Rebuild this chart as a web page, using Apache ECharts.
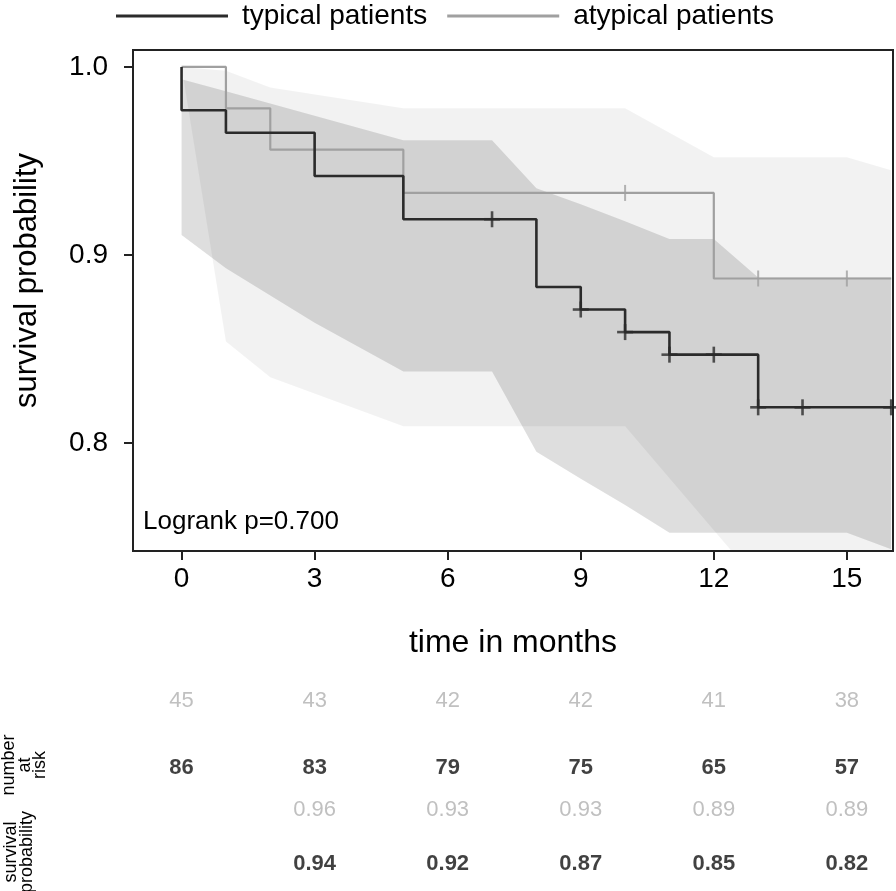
<!DOCTYPE html>
<html><head><meta charset="utf-8">
<script src="https://cdn.jsdelivr.net/npm/echarts@6/dist/echarts.min.js"></script>
<style>html,body{margin:0;padding:0;background:#fff}#c{width:896px;height:891px}</style>
</head><body><div id="c"></div>
<script>
// ---- data ----
const xTicks = [0, 3, 6, 9, 12, 15];
const yTicks = [0.8, 0.9, 1.0];

const typStepTime = [0, 0, 1, 3, 5, 8, 9, 10, 11, 13, 16];
const typStepSurv = [1.0, 0.977, 0.965, 0.942, 0.919, 0.883, 0.871, 0.859, 0.847, 0.819, 0.819];
const atyStepTime = [0, 1, 2, 5, 12, 16];
const atyStepSurv = [1.0, 0.978, 0.956, 0.933, 0.8875, 0.8875];

const typCensorTime = [7, 9, 10, 11, 12, 13, 14, 16];
const typCensorSurv = [0.919, 0.871, 0.859, 0.847, 0.847, 0.819, 0.819, 0.819];
const atyCensorTime = [10, 13, 15];
const atyCensorSurv = [0.933, 0.8875, 0.8875];

const typCiTime  = [0, 1, 3, 5, 7, 8, 9, 10, 11, 12, 13, 14, 15, 16];
const typCiUpper = [0.9934, 0.987, 0.974, 0.961, 0.961, 0.9355, 0.927, 0.918, 0.9085, 0.9085, 0.888, 0.888, 0.888, 0.888];
const typCiLower = [0.9106, 0.893, 0.864, 0.838, 0.838, 0.7954, 0.781, 0.767, 0.7523, 0.7523, 0.7523, 0.7523, 0.7523, 0.7435];

const atyCiTime  = [0, 1, 2, 5, 10, 12, 13, 15, 16];
const atyCiUpper = [1.0, 0.998, 0.989, 0.978, 0.978, 0.952, 0.952, 0.952, 0.945];
const atyCiLower = [1.0, 0.854, 0.835, 0.809, 0.809, 0.7537, 0.726, 0.726, 0.72];

const riskTimes = [0, 3, 6, 9, 12, 15];
const atyRisk = [45, 43, 42, 42, 41, 38];
const typRisk = [86, 83, 79, 75, 65, 57];
const survTimes = [3, 6, 9, 12, 15];
const atySurvTable = ['0.96', '0.93', '0.93', '0.89', '0.89'];
const typSurvTable = ['0.94', '0.92', '0.87', '0.85', '0.82'];

// ---- chart ----
const FONT = '"Liberation Sans", Arial, sans-serif';
const TYP_COLOR = '#2b2b2b';
const ATY_COLOR = '#a0a0a0';
const X_MIN = -1.095, X_MAX = 16.04;

function pairs(xs, ys) { return xs.map((x, i) => [x, ys[i]]); }

const chart = echarts.init(document.getElementById('c'), null, {renderer: 'canvas'});

const hiddenX = (gi) => ({type: 'value', gridIndex: gi, min: X_MIN, max: X_MAX, show: false});
const tableY = (gi) => ({type: 'category', gridIndex: gi, data: ['aty', 'typ'], inverse: true, show: false});

function tableSeries(gi, times, vals, isTyp) {
  return {
    type: 'scatter', xAxisIndex: gi, yAxisIndex: gi,
    data: times.map((t, i) => [t, isTyp ? 'typ' : 'aty', String(vals[i])]),
    symbol: 'circle', symbolSize: 1, itemStyle: {color: 'transparent'}, silent: true,
    label: {show: true, position: 'inside', formatter: p => p.data[2],
            fontFamily: FONT, fontSize: 22, fontWeight: isTyp ? 'bold' : 'normal',
            color: isTyp ? '#111' : '#b0b0b0'}
  };
}

function bandSeries(times, lower, upper, fill) {
  return {
    type: 'custom', silent: true, z: 1,
    data: times.map((t, i) => [t, lower[i], upper[i]]),
    encode: {x: 0, y: [1, 2]},
    renderItem: function (params, api) {
      if (params.dataIndex !== 0) return null;
      const pts = [];
      for (let i = 0; i < times.length; i++) pts.push(api.coord([times[i], upper[i]]));
      for (let i = times.length - 1; i >= 0; i--) pts.push(api.coord([times[i], lower[i]]));
      const cs = params.coordSys;
      return {
        type: 'polygon', shape: {points: pts}, style: {fill: fill, stroke: null},
        clipPath: {type: 'rect', shape: {x: cs.x, y: cs.y, width: cs.width, height: cs.height}}
      };
    }
  };
}

const option = {
  animation: false,
  backgroundColor: '#fff',
  textStyle: {fontFamily: FONT},
  legend: {
    data: ['typical patients', 'atypical patients'],
    left: 111, top: -3, icon: 'rect', itemWidth: 112, itemHeight: 3, itemGap: 20,
    textStyle: {fontFamily: FONT, fontSize: 28, color: '#000', padding: [0, 0, 0, 9]}
  },
  grid: [
    {left: 133, right: 3, top: 50, bottom: 340, show: true, borderColor: '#222', borderWidth: 2, z: 10},
    {left: 133, right: 3, top: 667.5, height: 134},
    {left: 133, right: 3, top: 783, height: 116}
  ],
  xAxis: [
    {type: 'value', gridIndex: 0, min: X_MIN, max: X_MAX,
     axisLine: {show: true, onZero: false, lineStyle: {color: '#222', width: 2}},
     axisTick: {show: true, customValues: xTicks, length: 9, lineStyle: {color: '#222', width: 2}},
     axisLabel: {customValues: xTicks, fontSize: 28, color: '#000', margin: 14, fontFamily: FONT},
     splitLine: {show: false},
     name: 'time in months', nameLocation: 'middle', nameGap: 76,
     nameTextStyle: {fontSize: 32, color: '#000', fontFamily: FONT}},
    hiddenX(1), hiddenX(2)
  ],
  yAxis: [
    {type: 'value', gridIndex: 0, min: 0.7426, max: 1.009,
     axisLine: {show: true, onZero: false, lineStyle: {color: '#222', width: 2}},
     axisTick: {show: true, customValues: yTicks, length: 9, lineStyle: {color: '#222', width: 2}},
     axisLabel: {customValues: yTicks, fontSize: 28, color: '#000', margin: 25, fontFamily: FONT,
                 formatter: v => Number(v).toFixed(1)},
     splitLine: {show: false},
     name: 'survival probability', nameLocation: 'middle', nameGap: 90,
     nameTextStyle: {fontSize: 31, color: '#000', fontFamily: FONT, padding: [0, 0, 0, 40]}},
    tableY(1), tableY(2)
  ],
  graphic: [
    {type: 'text', left: 143, top: 509, z: 20,
     style: {text: 'Logrank p=0.700', fontSize: 26, fontFamily: FONT, fill: '#000'}},
    {type: 'text', x: 25, y: 765, rotation: Math.PI / 2,
     style: {text: 'number\nat\nrisk', fontSize: 18, lineHeight: 15.5, fontFamily: FONT, fill: '#000',
             align: 'center', verticalAlign: 'middle'}},
    {type: 'text', x: 19, y: 852, rotation: Math.PI / 2,
     style: {text: 'survival\nprobability', fontSize: 18, lineHeight: 16, fontFamily: FONT, fill: '#000',
             align: 'center', verticalAlign: 'middle'}}
  ],
  series: [
    bandSeries(atyCiTime, atyCiLower, atyCiUpper, 'rgba(0,0,0,0.05)'),
    bandSeries(typCiTime, typCiLower, typCiUpper, 'rgba(0,0,0,0.13)'),

    {type: 'line', name: 'atypical patients', data: pairs(atyStepTime, atyStepSurv), step: 'end',
     symbol: 'none', color: ATY_COLOR, lineStyle: {color: ATY_COLOR, width: 2.2}, z: 3},
    {type: 'line', name: 'typical patients', data: pairs(typStepTime, typStepSurv), step: 'end',
     symbol: 'none', color: TYP_COLOR, lineStyle: {color: TYP_COLOR, width: 2.6}, z: 4},

    {type: 'scatter', data: pairs(atyCensorTime, atyCensorSurv), symbol: 'rect', symbolSize: [2, 16],
     itemStyle: {color: ATY_COLOR}, silent: true, z: 5},
    {type: 'scatter', data: pairs(typCensorTime, typCensorSurv), symbol: 'rect', symbolSize: [2.6, 16],
     itemStyle: {color: TYP_COLOR}, silent: true, z: 6},
    {type: 'scatter', data: pairs(typCensorTime, typCensorSurv), symbol: 'rect', symbolSize: [16, 2.6],
     itemStyle: {color: TYP_COLOR}, silent: true, z: 6},

    tableSeries(1, riskTimes, atyRisk, false),
    tableSeries(1, riskTimes, typRisk, true),
    tableSeries(2, survTimes, atySurvTable, false),
    tableSeries(2, survTimes, typSurvTable, true)
  ]
};
chart.setOption(option);
</script>
</body></html>
